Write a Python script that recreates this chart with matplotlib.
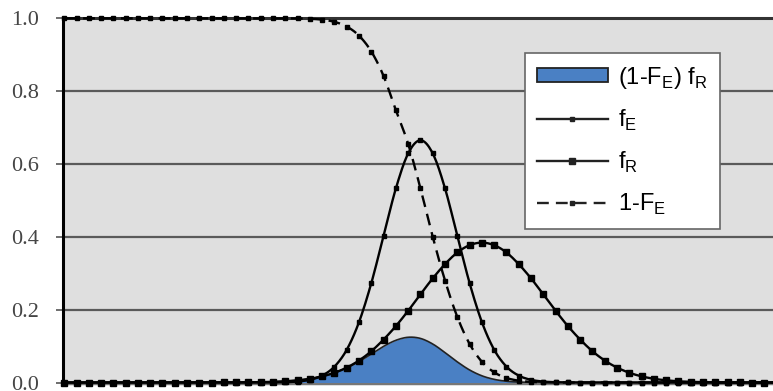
import numpy as np
import matplotlib
matplotlib.use("Agg")
import matplotlib.pyplot as plt
from matplotlib.patches import Patch
from matplotlib.lines import Line2D

# ------------------------------------------------------------
# Series (one value per marker)
# ------------------------------------------------------------
n_pts = 60

f_E = [0.0] * 17 + [
    0.0002, 0.0008, 0.0026, 0.0074, 0.019, 0.0437, 0.090, 0.166, 0.273,
    0.403, 0.533, 0.629, 0.665, 0.629, 0.533, 0.403, 0.273, 0.166, 0.090,
    0.0437, 0.019, 0.0074, 0.0026, 0.0008, 0.0002,
] + [0.0] * 18

f_R = [0.0] * 13 + [
    0.0001, 0.0002, 0.0005, 0.0010, 0.0018, 0.0034, 0.0060, 0.0102, 0.0169,
    0.0268, 0.0410, 0.0604, 0.0859, 0.118, 0.155, 0.197, 0.242, 0.286,
    0.325, 0.357, 0.377, 0.384, 0.377, 0.357, 0.325, 0.286, 0.242, 0.197,
    0.155, 0.118, 0.0859, 0.0604, 0.0410, 0.0268, 0.0169, 0.0102, 0.0060,
    0.0034, 0.0018, 0.0010, 0.0005, 0.0002, 0.0001,
] + [0.0] * 4

one_minus_F_E = [1.0] * 18 + [
    0.9999, 0.9996, 0.9987, 0.9962, 0.9902, 0.9773, 0.9522, 0.9088, 0.8413,
    0.7475, 0.655, 0.533, 0.400, 0.280, 0.180, 0.106, 0.057, 0.028, 0.0125,
    0.0050, 0.0018, 0.0006, 0.0002, 0.00005,
] + [0.0] * 18

overlap = [0.0] * 13 + [
    0.0001, 0.0002, 0.0005, 0.0010, 0.0018, 0.0034, 0.0060, 0.0102, 0.0168,
    0.0265, 0.0401, 0.0575, 0.0781, 0.0993, 0.1159, 0.1242, 0.1210, 0.1057,
    0.0821, 0.0566, 0.0344, 0.0184, 0.0086, 0.0035, 0.0012, 0.0004, 0.0001,
] + [0.0] * 20

y_ticks = [0.0, 0.2, 0.4, 0.6, 0.8, 1.0]
y_tick_labels = ["0.0", "0.2", "0.4", "0.6", "0.8", "1.0"]

x = np.arange(n_pts)


def smooth_path(xs, ys, k=10):
    # Catmull-Rom style curve through the points (like a spreadsheet "smoothed line")
    xs = np.asarray(xs, float)
    ys = np.asarray(ys, float)
    px = np.concatenate([[xs[0]], xs, [xs[-1]]])
    py = np.concatenate([[ys[0]], ys, [ys[-1]]])
    t = np.linspace(0, 1, k, endpoint=False)
    out_x, out_y = [], []
    for i in range(1, len(px) - 2):
        for P, out in ((px, out_x), (py, out_y)):
            p0, p1, p2, p3 = P[i - 1], P[i], P[i + 1], P[i + 2]
            out.extend(0.5 * ((2 * p1) + (-p0 + p2) * t
                              + (2 * p0 - 5 * p1 + 4 * p2 - p3) * t ** 2
                              + (-p0 + 3 * p1 - 3 * p2 + p3) * t ** 3))
    out_x.append(xs[-1])
    out_y.append(ys[-1])
    return np.array(out_x), np.array(out_y)


# ------------------------------------------------------------
W, H = 773, 391
fig = plt.figure(figsize=(W / 100, H / 100), dpi=100)
ax = fig.add_axes([63 / W, (H - 382.5) / H, 1 - 63 / W, (382.5 - 18.3) / H])
ax.set_facecolor("#dfdfdf")

grid_col = "#5a5a5a"
for yv in y_ticks[1:-1]:
    ax.axhline(yv, color=grid_col, lw=1.6, zorder=1)

sx, sy = smooth_path(x, overlap)
ax.fill_between(sx, 0, np.clip(sy, 0, None), color="#4a80c4", lw=0, zorder=2)
ax.plot(sx, sy, color="#222222", lw=1.2, zorder=3)

dash = (0, (5, 3))
line_kw = dict(color="black", lw=1.7, clip_on=False)
for data, ms, ls in ((f_R, 4.4, "-"), (f_E, 2.2, "-"),
                     (one_minus_F_E, 2.6, dash)):
    sx, sy = smooth_path(x, data)
    ax.plot(sx, sy, ls=ls, zorder=4, **line_kw)
    ax.plot(x, data, ls="none", marker="s", ms=ms, color="black", zorder=5,
            clip_on=False)

ax.set_xlim(-0.1, 57.7)
ax.set_ylim(0, 1.0)

for side in ["right", "bottom"]:
    ax.spines[side].set_visible(False)
ax.spines["left"].set_linewidth(2.2)
ax.spines["left"].set_color("black")
ax.spines["top"].set_linewidth(2.2)
ax.spines["top"].set_color("#333333")
ax.axhline(0, color="#777777", lw=2.5, zorder=1.5, clip_on=False)

ax.set_xticks([])
ax.set_yticks(y_ticks)
ax.set_yticklabels(y_tick_labels, family="Liberation Serif", fontsize=16,
                   color="#454545")
ax.tick_params(axis="y", direction="out", length=5, width=1.2, color="#555555",
               pad=12)

handles = [
    Patch(facecolor="#4a80c4", edgecolor="#222222", linewidth=1.3),
    Line2D([], [], color="#222222", lw=1.7, marker="s", ms=2.2),
    Line2D([], [], color="#222222", lw=1.7, marker="s", ms=4.4),
    Line2D([], [], color="#222222", lw=1.7, ls=dash, marker="s", ms=2.6),
]
labels = [
    r"(1-F$_\mathregular{E}$) f$_\mathregular{R}$",
    r"f$_\mathregular{E}$",
    r"f$_\mathregular{R}$",
    r"1-F$_\mathregular{E}$",
]
leg = ax.legend(handles, labels, loc="upper left",
                bbox_to_anchor=(0.651, 0.905), frameon=True, fancybox=False,
                prop={"family": "Liberation Sans", "size": 17},
                handlelength=3.0, handleheight=0.55, handletextpad=0.45,
                labelspacing=0.72, borderpad=0.5, borderaxespad=0.0)
leg.get_frame().set_edgecolor("#666666")
leg.get_frame().set_linewidth(1.2)
leg.get_frame().set_alpha(1.0)
leg.set_zorder(10)

fig.savefig("out.png", dpi=100)
